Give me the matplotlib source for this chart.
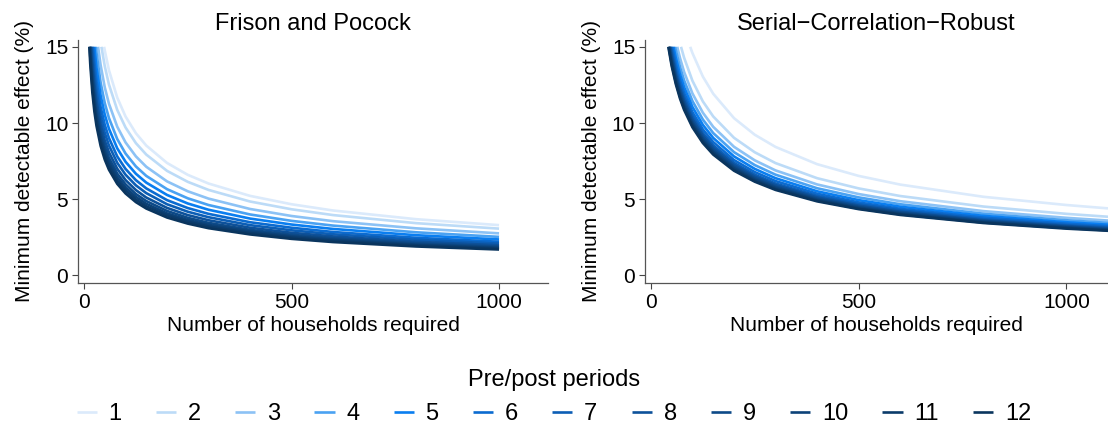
import numpy as np
import matplotlib.pyplot as plt

plt.rcParams['font.family'] = ['Liberation Sans', 'DejaVu Sans']

periods = [1, 2, 3, 4, 5, 6, 7, 8, 9, 10, 11, 12]
colors = ["#dbeafb", "#bcdbf7", "#8cc2f5", "#4aa2f2", "#0a7ef0", "#0b6bd0",
          "#0c5eb5", "#0d519a", "#0d4a88", "#0c4278", "#0b3b6a", "#0a355e"]

nan = np.nan

# Frison and Pocock: households where each curve enters the 15% ceiling, then values on a grid
fp_start = [48.4, 41.9, 33.9, 28.4, 24.8, 21.7, 19.4, 17.4, 15.9, 14.7, 13.8, 12.8]
fp_n = [15, 20, 25, 30, 40, 50, 60, 80, 100, 125, 150, 200, 250, 300, 400, 500, 600, 800, 1000]
fp_mde = [
    [nan, nan, nan, nan, nan, 14.76, 13.47, 11.67, 10.43, 9.33, 8.52, 7.38, 6.60, 6.03, 5.22, 4.67, 4.26, 3.69, 3.30],
    [nan, nan, nan, nan, nan, 13.73, 12.53, 10.86, 9.71, 8.68, 7.93, 6.86, 6.14, 5.61, 4.85, 4.34, 3.96, 3.43, 3.07],
    [nan, nan, nan, nan, 13.80, 12.34, 11.27, 9.76, 8.73, 7.81, 7.13, 6.17, 5.52, 5.04, 4.36, 3.90, 3.56, 3.09, 2.76],
    [nan, nan, nan, 14.61, 12.65, 11.31, 10.33, 8.95, 8.00, 7.15, 6.53, 5.66, 5.06, 4.62, 4.00, 3.58, 3.27, 2.83, 2.53],
    [nan, nan, 14.93, 13.63, 11.80, 10.55, 9.63, 8.34, 7.46, 6.67, 6.09, 5.28, 4.72, 4.31, 3.73, 3.34, 3.05, 2.64, 2.36],
    [nan, nan, 13.98, 12.76, 11.05, 9.88, 9.02, 7.81, 6.99, 6.25, 5.71, 4.94, 4.42, 4.04, 3.49, 3.13, 2.85, 2.47, 2.21],
    [nan, 14.78, 13.22, 12.07, 10.45, 9.35, 8.53, 7.39, 6.61, 5.91, 5.40, 4.67, 4.18, 3.82, 3.30, 2.96, 2.70, 2.34, 2.09],
    [nan, 14.00, 12.52, 11.43, 9.90, 8.85, 8.08, 7.00, 6.26, 5.60, 5.11, 4.43, 3.96, 3.62, 3.13, 2.80, 2.56, 2.21, 1.98],
    [nan, 13.36, 11.95, 10.91, 9.45, 8.45, 7.72, 6.68, 5.98, 5.34, 4.88, 4.23, 3.78, 3.45, 2.99, 2.67, 2.44, 2.11, 1.89],
    [14.86, 12.87, 11.51, 10.51, 9.10, 8.14, 7.43, 6.44, 5.76, 5.15, 4.70, 4.07, 3.64, 3.32, 2.88, 2.57, 2.35, 2.03, 1.82],
    [14.37, 12.45, 11.13, 10.16, 8.80, 7.87, 7.18, 6.22, 5.57, 4.98, 4.54, 3.94, 3.52, 3.21, 2.78, 2.49, 2.27, 1.97, 1.76],
    [13.88, 12.02, 10.75, 9.82, 8.50, 7.60, 6.94, 6.01, 5.38, 4.81, 4.39, 3.80, 3.40, 3.10, 2.69, 2.40, 2.19, 1.90, 1.70],
]

# Serial-Correlation-Robust
scr_start = [94.6, 72.5, 63.4, 58.2, 54.2, 51.0, 48.5, 46.7, 45.2, 44.0, 42.8, 42.0]
scr_n = [50, 60, 70, 80, 100, 125, 150, 200, 250, 300, 400, 500, 600, 800, 1000, 1100]
scr_mde = [
    [nan, nan, nan, nan, 14.59, 13.05, 11.92, 10.32, 9.23, 8.43, 7.30, 6.53, 5.96, 5.16, 4.62, 4.40],
    [nan, nan, nan, 14.28, 12.77, 11.42, 10.43, 9.03, 8.08, 7.37, 6.38, 5.71, 5.21, 4.52, 4.04, 3.85],
    [nan, nan, 14.27, 13.35, 11.94, 10.68, 9.75, 8.44, 7.55, 6.89, 5.97, 5.34, 4.87, 4.22, 3.78, 3.60],
    [nan, 14.77, 13.68, 12.79, 11.44, 10.23, 9.34, 8.09, 7.24, 6.61, 5.72, 5.12, 4.67, 4.05, 3.62, 3.45],
    [nan, 14.26, 13.20, 12.35, 11.05, 9.88, 9.02, 7.81, 6.99, 6.38, 5.52, 4.94, 4.51, 3.91, 3.49, 3.33],
    [nan, 13.83, 12.80, 11.98, 10.71, 9.58, 8.75, 7.57, 6.78, 6.19, 5.36, 4.79, 4.37, 3.79, 3.39, 3.23],
    [14.77, 13.49, 12.49, 11.68, 10.45, 9.34, 8.53, 7.39, 6.61, 6.03, 5.22, 4.67, 4.27, 3.69, 3.30, 3.15],
    [14.49, 13.23, 12.25, 11.46, 10.25, 9.17, 8.37, 7.25, 6.48, 5.92, 5.12, 4.58, 4.18, 3.62, 3.24, 3.09],
    [14.26, 13.02, 12.05, 11.27, 10.08, 9.02, 8.23, 7.13, 6.38, 5.82, 5.04, 4.51, 4.12, 3.57, 3.19, 3.04],
    [14.07, 12.85, 11.89, 11.12, 9.95, 8.90, 8.12, 7.04, 6.29, 5.75, 4.97, 4.45, 4.06, 3.52, 3.15, 3.00],
    [13.88, 12.67, 11.73, 10.98, 9.82, 8.78, 8.02, 6.94, 6.21, 5.67, 4.91, 4.39, 4.01, 3.47, 3.11, 2.96],
    [13.74, 12.55, 11.61, 10.86, 9.72, 8.69, 7.93, 6.87, 6.15, 5.61, 4.86, 4.35, 3.97, 3.44, 3.07, 2.93],
]

ceiling = 15.0

fig = plt.figure(figsize=(11.08, 4.25), dpi=100)
ax1 = fig.add_axes([0.0704, 0.334, 0.4242, 0.572])
ax2 = fig.add_axes([0.582, 0.334, 0.418, 0.572])


def draw_panel(ax, title, starts, grid, table, xmax):
    grid = np.array(grid, dtype=float)
    for p, col, st, vals in zip(periods, colors, starts, table):
        vals = np.array(vals, dtype=float)
        ok = ~np.isnan(vals)
        xs = np.concatenate([[st], grid[ok]])
        ys = np.concatenate([[ceiling], vals[ok]])
        ax.plot(xs, ys, color=col, lw=1.9, label=str(p), solid_capstyle='butt')
    ax.set_title(title, fontsize=17, pad=7)
    ax.set_xlim(-14.5, xmax)
    ax.set_ylim(-0.5, 15.45)
    ax.set_xticks([0, 500, 1000])
    ax.set_yticks([0, 5, 10, 15])
    ax.set_xlabel("Number of households required", fontsize=15, labelpad=3)
    ax.set_ylabel("Minimum detectable effect (%)", fontsize=15, labelpad=8)
    ax.tick_params(labelsize=15, length=4, width=0.8, color="#444444", pad=3)
    for s in ["top", "right"]:
        ax.spines[s].set_visible(False)
    for s in ["left", "bottom"]:
        ax.spines[s].set_color("#555555")
        ax.spines[s].set_linewidth(0.9)


draw_panel(ax1, "Frison and Pocock", fp_start, fp_n, fp_mde, 1118)
draw_panel(ax2, "Serial\u2212Correlation\u2212Robust", scr_start, scr_n, scr_mde, 1100)

handles, labels = ax1.get_legend_handles_labels()
leg = fig.legend(handles, labels, loc="lower center", bbox_to_anchor=(0.5, -0.05),
                 ncol=12, frameon=False, fontsize=17, title="Pre/post periods",
                 title_fontsize=17, handlelength=0.85, handletextpad=0.5,
                 columnspacing=1.45)

fig.savefig("out.png", dpi=100)
